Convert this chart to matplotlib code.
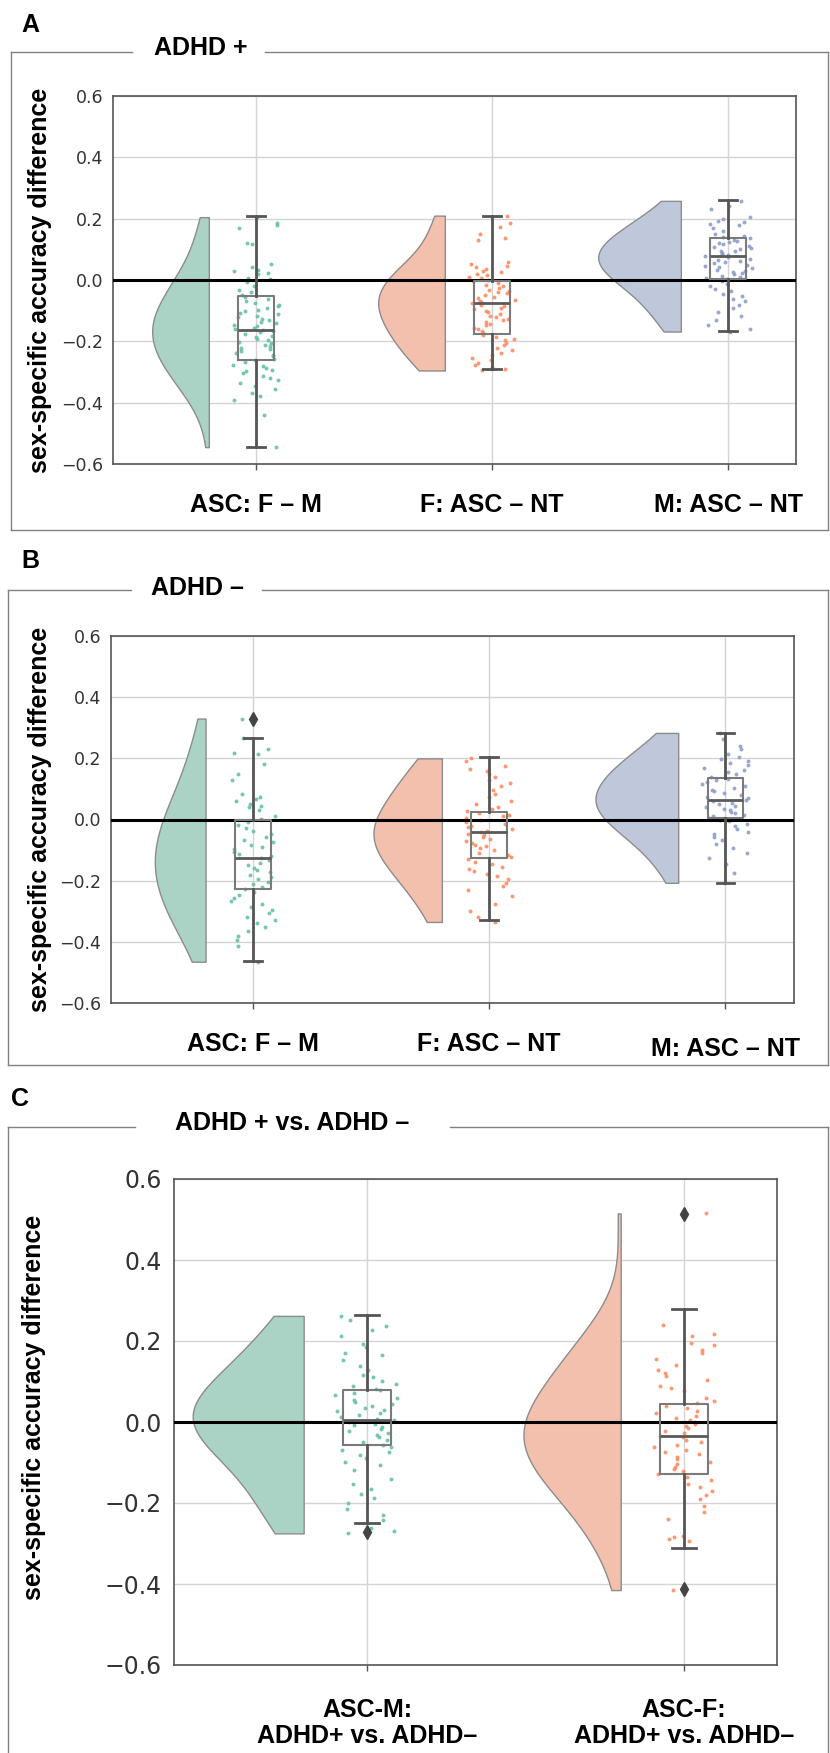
import matplotlib
matplotlib.use('Agg')
import matplotlib.pyplot as plt
from matplotlib.lines import Line2D
import numpy as np
import colorsys

W, H = 830, 1753

green = '#66c2a5'
orange = '#fc8d62'
blue = '#8da0cb'

labels_ab = ['ASC: F – M', 'F: ASC – NT', 'M: ASC – NT']
labels_c = ['ASC-M:\nADHD+ vs. ADHD–', 'ASC-F:\nADHD+ vs. ADHD–']

# ---- ADHD+ : per-subject sex-specific accuracy differences ----
a_asc_fm = [0.205, 0.185, 0.170, 0.178, 0.122, 0.119, 0.052, 0.041, 0.034, 0.030, 0.024,
            0.018, 0.005, 0.002, -0.006, -0.021, -0.031, -0.038, -0.049, -0.057, -0.063,
            -0.069, -0.076, -0.081, -0.086, -0.091, -0.097, -0.101, -0.106, -0.112, -0.116,
            -0.121, -0.126, -0.131, -0.137, -0.141, -0.146, -0.151, -0.156, -0.160, -0.163,
            -0.166, -0.171, -0.176, -0.181, -0.186, -0.191, -0.196, -0.201, -0.206, -0.211,
            -0.216, -0.221, -0.226, -0.232, -0.237, -0.243, -0.249, -0.256, -0.262, -0.268,
            -0.276, -0.281, -0.287, -0.292, -0.298, -0.303, -0.312, -0.319, -0.327, -0.336,
            -0.346, -0.356, -0.367, -0.379, -0.391, -0.441, -0.545]
a_f_asc_nt = [0.210, 0.186, 0.172, 0.150, 0.136, 0.132, 0.058, 0.052, 0.047, 0.041, 0.036,
              0.030, 0.027, 0.021, 0.016, 0.011, 0.006, 0.001, -0.004, -0.010, -0.015, -0.021,
              -0.026, -0.031, -0.035, -0.040, -0.044, -0.050, -0.055, -0.060, -0.064, -0.068,
              -0.072, -0.076, -0.080, -0.085, -0.090, -0.094, -0.100, -0.105, -0.111, -0.116,
              -0.121, -0.126, -0.131, -0.137, -0.142, -0.148, -0.155, -0.160, -0.166, -0.172,
              -0.178, -0.185, -0.191, -0.197, -0.205, -0.212, -0.221, -0.229, -0.237, -0.246,
              -0.255, -0.262, -0.270, -0.278, -0.285, -0.290, -0.295]
a_m_asc_nt = [0.258, 0.240, 0.232, 0.205, 0.198, 0.192, 0.188, 0.182, 0.178, 0.170, 0.161,
              0.151, 0.145, 0.140, 0.136, 0.132, 0.128, 0.124, 0.120, 0.116, 0.112, 0.108,
              0.104, 0.100, 0.096, 0.093, 0.088, 0.084, 0.080, 0.078, 0.074, 0.070, 0.066,
              0.062, 0.058, 0.054, 0.050, 0.046, 0.042, 0.038, 0.034, 0.030, 0.026, 0.022,
              0.018, 0.014, 0.010, 0.006, 0.003, -0.004, -0.012, -0.020, -0.028, -0.036,
              -0.045, -0.052, -0.061, -0.070, -0.081, -0.092, -0.105, -0.118, -0.132, -0.148,
              -0.160, -0.168]

# ---- ADHD- ----
b_asc_fm = [0.330, 0.266, 0.232, 0.218, 0.214, 0.180, 0.150, 0.128, 0.085, 0.075, 0.068,
            0.060, 0.052, 0.045, 0.040, 0.030, 0.012, 0.002, -0.008, -0.018, -0.028, -0.038,
            -0.048, -0.058, -0.066, -0.074, -0.082, -0.090, -0.098, -0.106, -0.114, -0.120,
            -0.126, -0.134, -0.142, -0.150, -0.158, -0.165, -0.172, -0.180, -0.188, -0.196,
            -0.204, -0.212, -0.220, -0.228, -0.236, -0.246, -0.256, -0.265, -0.275, -0.285,
            -0.295, -0.305, -0.318, -0.328, -0.340, -0.352, -0.365, -0.380, -0.395, -0.412,
            -0.465]
b_f_asc_nt = [0.200, 0.190, 0.175, 0.165, 0.158, 0.148, 0.138, 0.130, 0.118, 0.108, 0.095,
              0.085, 0.072, 0.062, 0.052, 0.042, 0.035, 0.028, 0.022, 0.016, 0.010, 0.004,
              -0.002, -0.008, -0.014, -0.020, -0.026, -0.032, -0.038, -0.042, -0.046, -0.052,
              -0.058, -0.064, -0.070, -0.076, -0.082, -0.088, -0.094, -0.100, -0.108, -0.116,
              -0.124, -0.130, -0.138, -0.146, -0.154, -0.162, -0.170, -0.178, -0.186, -0.196,
              -0.206, -0.218, -0.232, -0.250, -0.275, -0.300, -0.318, -0.335]
b_m_asc_nt = [0.283, 0.262, 0.240, 0.232, 0.215, 0.205, 0.198, 0.192, 0.185, 0.178, 0.170,
              0.162, 0.155, 0.148, 0.140, 0.134, 0.128, 0.122, 0.116, 0.110, 0.104, 0.098,
              0.092, 0.086, 0.080, 0.075, 0.070, 0.065, 0.060, 0.055, 0.050, 0.045, 0.040,
              0.035, 0.030, 0.025, 0.020, 0.015, 0.010, 0.005, 0.000, -0.006, -0.014, -0.022,
              -0.030, -0.040, -0.048, -0.058, -0.068, -0.080, -0.094, -0.108, -0.125, -0.145,
              -0.175, -0.207]

# ---- ADHD+ vs ADHD- ----
c_asc_m = [0.262, 0.252, 0.236, 0.226, 0.212, 0.192, 0.185, 0.170, 0.166, 0.152, 0.138,
           0.128, 0.116, 0.110, 0.102, 0.095, 0.088, 0.082, 0.078, 0.072, 0.066, 0.060,
           0.055, 0.050, 0.045, 0.040, 0.035, 0.030, 0.026, 0.022, 0.018, 0.013, 0.008,
           0.004, 0.000, -0.004, -0.008, -0.013, -0.018, -0.023, -0.028, -0.033, -0.038,
           -0.044, -0.050, -0.056, -0.062, -0.068, -0.075, -0.082, -0.090, -0.098, -0.106,
           -0.118, -0.140, -0.152, -0.166, -0.178, -0.188, -0.200, -0.214, -0.230, -0.243,
           -0.262, -0.268, -0.275]
c_asc_f = [0.515, 0.240, 0.218, 0.212, 0.195, 0.190, 0.178, 0.170, 0.156, 0.140, 0.128,
           0.122, 0.113, 0.103, 0.090, 0.084, 0.076, 0.060, 0.052, 0.046, 0.040, 0.034,
           0.028, 0.022, 0.016, 0.010, 0.005, 0.000, -0.005, -0.010, -0.016, -0.022, -0.028,
           -0.034, -0.038, -0.044, -0.050, -0.056, -0.062, -0.068, -0.074, -0.080, -0.086,
           -0.092, -0.098, -0.104, -0.110, -0.116, -0.122, -0.128, -0.136, -0.144, -0.152,
           -0.160, -0.170, -0.180, -0.190, -0.208, -0.222, -0.240, -0.282, -0.285, -0.290,
           -0.295, -0.415]

# box summaries per panel
a_q1 = [-0.260, -0.176, 0.003]
a_med = [-0.163, -0.075, 0.079]
a_q3 = [-0.052, -0.002, 0.136]
a_wlo = [-0.545, -0.290, -0.167]
a_whi = [0.210, 0.210, 0.260]
a_fliers = [[], [], []]

b_q1 = [-0.226, -0.127, 0.004]
b_med = [-0.125, -0.042, 0.064]
b_q3 = [-0.003, 0.026, 0.137]
b_wlo = [-0.463, -0.330, -0.207]
b_whi = [0.266, 0.203, 0.282]
b_fliers = [[0.330], [], []]

c_q1 = [-0.058, -0.129]
c_med = [0.004, -0.035]
c_q3 = [0.078, 0.045]
c_wlo = [-0.249, -0.311]
c_whi = [0.265, 0.280]
c_fliers = [[-0.272], [0.514, -0.412]]

plt.rcParams['font.family'] = ['Liberation Sans', 'DejaVu Sans']

fig = plt.figure(figsize=(W / 100, H / 100), dpi=100)
fig.patch.set_facecolor('white')


def fig_line(x0, y0, x1, y1):
    # pixel coords from top-left to figure fraction
    fig.add_artist(Line2D([x0 / W, x1 / W], [1 - y0 / H, 1 - y1 / H],
                          color='#808080', lw=1.0))


def add_axes_px(l, t, r, b):
    return fig.add_axes([l / W, 1 - b / H, (r - l) / W, (b - t) / H])


def fill_color(c, alpha=0.6):
    # desaturate like seaborn (75%) then fade onto white
    hh, ll, ss = colorsys.rgb_to_hls(*matplotlib.colors.to_rgb(c))
    rgb = np.array(colorsys.hls_to_rgb(hh, ll, ss * 0.75))
    return tuple(rgb * alpha + (1 - alpha))


def kde(vals, grid, bw_adjust=1.4):
    v = np.asarray(vals)
    bw = bw_adjust * v.std(ddof=1) * len(v) ** (-1 / 5)
    z = (grid[:, None] - v[None, :]) / bw
    return np.exp(-0.5 * z ** 2).sum(1) / (len(v) * bw * np.sqrt(2 * np.pi))


def raincloud(ax, groups, colors, q1, med, q3, wlo, whi, fliers, seed):
    rng = np.random.default_rng(seed)
    grids, dens = [], []
    for vals in groups:
        g = np.linspace(min(vals), max(vals), 300)
        grids.append(g)
        dens.append(kde(vals, g))
    scale = 0.35 / max(d.max() for d in dens)
    for i, (vals, c) in enumerate(zip(groups, colors)):
        edge = i - 0.2
        ax.fill_betweenx(grids[i], edge - dens[i] * scale, edge,
                         facecolor=fill_color(c), edgecolor='#8c8c8c', lw=1.0, zorder=2)
        jit = rng.uniform(-0.1, 0.1, len(vals))
        ax.scatter(i + jit, vals, s=8, color=c, alpha=0.9, lw=0, zorder=3)
    stats = [dict(med=med[i], q1=q1[i], q3=q3[i], whislo=wlo[i], whishi=whi[i],
                  fliers=fliers[i]) for i in range(len(groups))]
    ax.bxp(stats, positions=range(len(groups)), widths=0.15, showfliers=True,
           patch_artist=False, manage_ticks=False,
           boxprops=dict(color='#7a7a7a', lw=1.5),
           medianprops=dict(color='#5a5a5a', lw=2.0),
           whiskerprops=dict(color='#555555', lw=2.0),
           capprops=dict(color='#555555', lw=2.0),
           flierprops=dict(marker='d', markerfacecolor='#444444',
                           markeredgecolor='#444444', markersize=7),
           zorder=10)
    ax.axhline(0, color='black', lw=2.2, zorder=6)


def style_axes(ax, n, labels, ysize, ypad, xpad, xlim):
    ax.set_ylim(-0.6, 0.6)
    ax.set_xlim(*xlim)
    ax.set_yticks([-0.6, -0.4, -0.2, 0.0, 0.2, 0.4, 0.6])
    ax.set_yticklabels(['−0.6', '−0.4', '−0.2', '0.0', '0.2', '0.4', '0.6'],
                       family='DejaVu Sans', fontsize=ysize, color='#333333')
    ax.set_xticks(range(n))
    ax.set_xticklabels(labels, fontsize=18, fontweight='bold', linespacing=1.1)
    ax.tick_params(axis='y', length=0, pad=ypad)
    ax.tick_params(axis='x', length=4, width=1, color='#555555', pad=xpad)
    ax.grid(True, color='#d4d4d4', lw=1.0)
    ax.set_axisbelow(True)
    for sp in ax.spines.values():
        sp.set_color('#555555')
        sp.set_linewidth(1.2)


# ---------------- panel A ----------------
axA = add_axes_px(113, 96, 796, 464)
raincloud(axA, [a_asc_fm, a_f_asc_nt, a_m_asc_nt], [green, orange, blue],
          a_q1, a_med, a_q3, a_wlo, a_whi, a_fliers, seed=1)
style_axes(axA, 3, labels_ab, 12.5, 7, 17, (-0.606, 2.288))
axA.set_ylabel('sex-specific accuracy difference', fontsize=18, fontweight='bold')
axA.yaxis.set_label_coords(-0.089, 0.5)

# ---------------- panel B ----------------
axB = add_axes_px(111, 636, 794, 1003)
raincloud(axB, [b_asc_fm, b_f_asc_nt, b_m_asc_nt], [green, orange, blue],
          b_q1, b_med, b_q3, b_wlo, b_whi, b_fliers, seed=2)
style_axes(axB, 3, labels_ab, 12.5, 7, 17, (-0.6, 2.29))
axB.get_xticklabels()[2].set_y(-0.012)
axB.set_ylabel('sex-specific accuracy difference', fontsize=18, fontweight='bold')
axB.yaxis.set_label_coords(-0.087, 0.5)

# ---------------- panel C ----------------
axC = add_axes_px(174, 1179, 777, 1665)
raincloud(axC, [c_asc_m, c_asc_f], [green, orange],
          c_q1, c_med, c_q3, c_wlo, c_whi, c_fliers, seed=3)
style_axes(axC, 2, labels_c, 17, 9, 20, (-0.609, 1.293))
axC.set_ylabel('sex-specific accuracy difference', fontsize=18, fontweight='bold')
axC.yaxis.set_label_coords(-0.212, 0.53)

# ---------------- frames, titles, panel letters ----------------
frames = [
    (11, 52, 530, 132, 265, 'ADHD +', 201, 48, 'A', 30, 25),
    (8, 590, 1065, 131, 262, 'ADHD –', 197, 588, 'B', 30, 561),
    (8, 1127, 1760, 135, 450, 'ADHD + vs. ADHD –', 292, 1123, 'C', 20, 1099),
]
for left, top, bottom, g0, g1, title, tx, ty, letter, lx, ly in frames:
    right = 828
    fig_line(left, top, g0, top)
    fig_line(g1, top, right, top)
    fig_line(left, top, left, bottom)
    fig_line(right, top, right, bottom)
    fig_line(left, bottom, right, bottom)
    fig.text(tx / W, 1 - ty / H, title, fontsize=18, fontweight='bold',
             ha='center', va='center')
    fig.text(lx / W, 1 - ly / H, letter, fontsize=18, fontweight='bold',
             ha='center', va='center')

fig.savefig('out.png', dpi=100)
